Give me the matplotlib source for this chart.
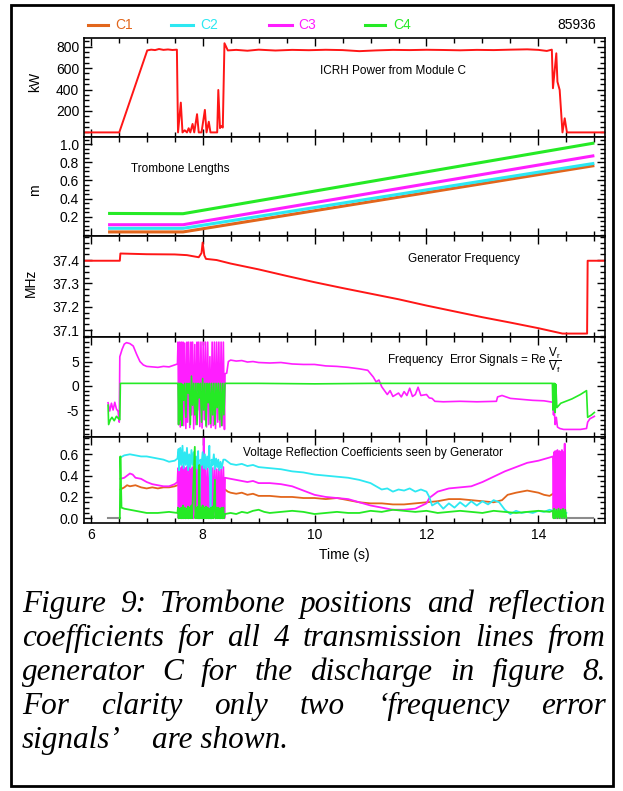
import numpy as np
import matplotlib.pyplot as plt
from matplotlib.ticker import MultipleLocator
from matplotlib.lines import Line2D
from matplotlib.patches import Rectangle

plt.rcParams['font.family'] = ['Liberation Sans', 'DejaVu Sans']
plt.rcParams['mathtext.fontset'] = 'custom'
plt.rcParams['mathtext.rm'] = 'Liberation Sans'
plt.rcParams['mathtext.it'] = 'Liberation Sans'
plt.rcParams['mathtext.default'] = 'regular'
plt.rcParams['axes.unicode_minus'] = False

# ---- data ----
shot = '85936'
names = ['C1', 'C2', 'C3', 'C4']
colors = ['#e2661c', '#2de8f2', '#ff1eff', '#25ea25']
red = '#ff1616'

# ICRH power from module C (kW)
t_pwr = [5.88, 6.51, 7.01, 7.08, 7.15, 7.22, 7.30, 7.38, 7.46, 7.54,
         7.56, 7.61, 7.64, 7.68, 7.72, 7.75, 7.78, 7.82, 7.85, 7.90,
         7.93, 7.98, 8.04, 8.07, 8.11, 8.14, 8.26, 8.28, 8.31, 8.33,
         8.36, 8.39, 8.45, 8.6, 8.8, 9.0, 9.3, 9.6, 9.9, 10.2,
         10.5, 10.8, 11.1, 11.4, 11.7, 12.0, 12.3, 12.6, 12.9, 13.2,
         13.5, 13.8, 14.0, 14.15, 14.24, 14.26, 14.32, 14.34, 14.38, 14.43,
         14.47, 14.51, 15.19]
kw_pwr = [0, 0, 765, 772, 768, 778, 770, 774, 769, 772,
          0, 278, 0, 20, 0, 39, 0, 79, 0, 170,
          0, 0, 210, 0, 100, 0, 0, 396, 40, 60,
          45, 832, 765, 770, 762, 772, 764, 770, 767, 771,
          768, 758, 765, 770, 768, 771, 769, 766, 770, 768,
          772, 775, 770, 760, 772, 412, 738, 473, 396, 0,
          132, 0, 0]

# trombone lengths (m)
t_tb = [6.31, 7.65, 15.0]
tb_c1 = [0.030, 0.030, 0.765]
tb_c2 = [0.070, 0.070, 0.790]
tb_c3 = [0.110, 0.110, 0.875]
tb_c4 = [0.235, 0.232, 1.015]

# generator frequency (MHz)
t_frq = [5.88, 6.52, 6.53, 7.0, 7.5, 7.72, 7.93, 7.98, 8.00, 8.03,
         8.06, 8.25, 8.5, 9.0, 9.5, 10.0, 10.5, 11.0, 11.5, 12.0,
         12.5, 13.0, 13.5, 14.0, 14.43, 14.87, 14.88, 15.19]
mhz_frq = [37.397, 37.397, 37.428, 37.425, 37.424, 37.421, 37.412, 37.43, 37.475, 37.42,
           37.405, 37.40, 37.385, 37.36, 37.332, 37.305, 37.28, 37.256, 37.232, 37.205,
           37.18, 37.155, 37.132, 37.108, 37.085, 37.085, 37.397, 37.397]

# frequency error signals, C3 and C4
t_err3 = [6.31, 6.34, 6.37, 6.40, 6.43, 6.46, 6.49, 6.51, 6.52, 6.56,
          6.60, 6.64, 6.70, 6.76, 6.82, 6.88, 6.94, 7.00, 7.10, 7.20,
          7.30, 7.40, 7.50, 7.55, 7.56, 7.57, 7.59, 7.60, 7.62, 7.63,
          7.65, 7.66, 7.68, 7.70, 7.72, 7.73, 7.75, 7.77, 7.79, 7.80,
          7.82, 7.84, 7.86, 7.88, 7.90, 7.91, 7.93, 7.95, 7.97, 7.99,
          8.01, 8.03, 8.05, 8.07, 8.09, 8.11, 8.13, 8.15, 8.17, 8.19,
          8.21, 8.23, 8.25, 8.27, 8.29, 8.31, 8.33, 8.35, 8.37, 8.39,
          8.40, 8.43, 8.46, 8.50, 8.60, 8.70, 8.80, 8.90, 9.00, 9.20,
          9.40, 9.60, 9.80, 10.0, 10.2, 10.4, 10.6, 10.8, 10.95, 11.0,
          11.05, 11.10, 11.15, 11.20, 11.25, 11.30, 11.35, 11.40, 11.50, 11.55,
          11.60, 11.65, 11.70, 11.75, 11.80, 11.85, 11.90, 12.00, 12.05, 12.10,
          12.15, 12.30, 12.60, 12.90, 13.25, 13.27, 13.35, 13.50, 13.70, 13.90,
          14.10, 14.26, 14.27, 14.28, 14.30, 14.32, 14.34, 14.38, 14.45, 14.60,
          14.75, 14.86, 14.88, 14.92, 15.0]
err3 = [-3.5, -5.2, -3.6, -5.0, -3.4, -4.8, -5.3, -7.5, 6.0, 7.5,
        8.6, 8.9, 8.7, 8.2, 6.5, 5.0, 4.3, 4.0, 3.9, 3.8,
        4.0, 3.9, 4.3, 4.5, 9.0, -8.0, 9.0, -8.5, 9.0, -7.8,
        9.0, -8.2, 8.8, -8.8, 9.0, -7.5, 9.0, -8.6, 9.0, -6.0,
        9.0, -8.9, 8.5, -8.0, 9.0, -5.0, 9.0, -8.4, 9.0, -8.7,
        9.0, -7.0, 9.0, -8.5, 9.0, -8.0, 6.0, -8.6, 9.0, -8.2,
        9.0, -8.8, 9.0, -7.5, 9.0, -8.5, 9.0, -8.2, 9.0, -9.0,
        2.5, 2.6, 5.0, 5.3, 5.1, 5.2, 4.9, 5.0, 4.8, 4.7,
        4.8, 4.5, 4.4, 4.4, 4.1, 4.0, 3.8, 3.5, 3.2, 2.5,
        1.8, 0.8, 1.2, -0.2, -1.0, -1.8, -1.0, -2.2, -1.5, -2.3,
        -1.2, -2.0, -0.5, -2.2, -1.8, -0.3, -2.0, -1.8, -2.5, -2.6,
        -3.2, -3.3, -3.2, -3.3, -3.2, -2.3, -2.0, -2.6, -2.8, -3.0,
        -3.1, -3.4, -6.0, -4.5, -8.0, -6.5, -8.5, -8.8, -9.0, -9.0,
        -9.0, -8.8, -7.5, -6.8, -6.3]

t_err4 = [6.31, 6.32, 6.35, 6.38, 6.42, 6.46, 6.50, 6.52, 6.53, 7.00,
          7.55, 7.56, 7.57, 7.58, 7.60, 7.61, 7.63, 7.64, 7.66, 7.68,
          7.70, 7.72, 7.74, 7.76, 7.78, 7.80, 7.82, 7.84, 7.86, 7.88,
          7.90, 7.92, 7.94, 7.96, 7.98, 8.00, 8.02, 8.04, 8.06, 8.08,
          8.10, 8.12, 8.14, 8.16, 8.18, 8.20, 8.22, 8.24, 8.26, 8.28,
          8.30, 8.32, 8.34, 8.36, 8.38, 8.40, 9.0, 10.0, 11.0, 12.0,
          13.0, 14.0, 14.25, 14.26, 14.27, 14.28, 14.29, 14.30, 14.31, 14.33,
          14.40, 14.60, 14.75, 14.86, 14.88, 14.95, 15.0]
err4 = [-4.0, -8.0, -7.0, -6.5, -7.2, -6.3, -6.8, -7.0, 0.5, 0.5,
        0.5, 0.5, -8.0, 0.5, -7.0, 0.5, -8.2, 0.3, -3.0, 0.5,
        -6.5, 0.5, -1.5, 0.5, -8.0, 2.0, -4.0, 0.5, -6.0, 0.5,
        -8.0, 0.5, -2.5, 0.5, -7.5, 1.5, -5.0, 0.5, -8.3, 0.5,
        -3.5, 0.5, -7.8, 0.5, -6.0, 0.5, -8.0, 0.5, -4.5, 0.5,
        -7.0, 0.5, -8.2, 0.5, -6.0, 0.5, 0.5, 0.4, 0.5, 0.5,
        0.5, 0.5, 0.5, -5.0, 0.5, -4.0, 0.5, -5.5, 0.3, -4.5,
        -3.6, -2.7, -1.8, -1.0, -6.5, -6.0, -5.5]

# voltage reflection coefficients
t_rc1 = [6.53, 6.60, 6.65, 6.70, 6.80, 6.90, 7.00, 7.10, 7.20, 7.30,
         7.40, 7.50, 7.55, 7.70, 7.90, 8.10, 8.30, 8.40, 8.45, 8.50,
         8.60, 8.70, 8.80, 8.90, 9.00, 9.20, 9.40, 9.60, 9.80, 10.0,
         10.2, 10.4, 10.6, 10.8, 11.0, 11.2, 11.4, 11.6, 11.8, 12.0,
         12.2, 12.4, 12.6, 12.8, 13.0, 13.2, 13.35, 13.45, 13.60, 13.80,
         13.90, 14.00, 14.10, 14.20, 14.26]
rc1 = [0.27, 0.29, 0.31, 0.30, 0.31, 0.29, 0.28, 0.29, 0.28, 0.29,
       0.29, 0.30, 0.31, 0.30, 0.28, 0.27, 0.28, 0.27, 0.25, 0.24,
       0.23, 0.24, 0.22, 0.23, 0.21, 0.21, 0.20, 0.20, 0.19, 0.19,
       0.18, 0.19, 0.17, 0.15, 0.14, 0.14, 0.13, 0.13, 0.14, 0.15,
       0.16, 0.18, 0.18, 0.17, 0.16, 0.15, 0.17, 0.22, 0.24, 0.26,
       0.25, 0.24, 0.22, 0.21, 0.23]

t_rc2 = [6.53, 6.60, 6.70, 6.80, 6.90, 7.00, 7.10, 7.20, 7.30, 7.40,
         7.50, 7.55, 7.57, 7.58, 7.60, 7.62, 7.64, 7.66, 7.68, 7.70,
         7.72, 7.74, 7.76, 7.78, 7.80, 7.82, 7.84, 7.86, 7.88, 7.90,
         7.92, 7.94, 7.96, 7.98, 8.00, 8.02, 8.04, 8.06, 8.08, 8.10,
         8.12, 8.14, 8.16, 8.18, 8.20, 8.22, 8.24, 8.26, 8.28, 8.30,
         8.32, 8.34, 8.37, 8.40, 8.50, 8.60, 8.70, 8.80, 8.90, 9.00,
         9.20, 9.40, 9.60, 9.80, 10.0, 10.2, 10.4, 10.6, 10.8, 11.0,
         11.1, 11.2, 11.3, 11.4, 11.5, 11.6, 11.7, 11.8, 11.9, 12.0,
         12.05, 12.1, 12.2, 12.3, 12.4, 12.5, 12.6, 12.7, 12.8, 12.9,
         13.0, 13.1, 13.2, 13.3, 13.4, 13.5, 13.6, 13.7, 13.8, 13.9,
         14.0, 14.1, 14.2, 14.26, 14.40, 14.50]
rc2 = [0.57, 0.59, 0.60, 0.59, 0.58, 0.58, 0.57, 0.56, 0.55, 0.53,
       0.54, 0.56, 0.65, 0.45, 0.66, 0.50, 0.68, 0.47, 0.62, 0.50,
       0.66, 0.45, 0.60, 0.48, 0.64, 0.50, 0.62, 0.45, 0.58, 0.47,
       0.63, 0.00, 0.55, 0.50, 0.62, 0.47, 0.60, 0.46, 0.58, 0.48,
       0.68, 0.00, 0.55, 0.50, 0.60, 0.46, 0.56, 0.48, 0.55, 0.45,
       0.53, 0.47, 0.55, 0.55, 0.51, 0.50, 0.51, 0.49, 0.50, 0.48,
       0.47, 0.46, 0.44, 0.43, 0.41, 0.40, 0.39, 0.38, 0.36, 0.33,
       0.30, 0.27, 0.28, 0.25, 0.27, 0.26, 0.28, 0.25, 0.27, 0.25,
       0.20, 0.12, 0.15, 0.09, 0.14, 0.10, 0.15, 0.11, 0.16, 0.12,
       0.16, 0.13, 0.17, 0.15, 0.08, 0.04, 0.07, 0.05, 0.06, 0.05,
       0.07, 0.06, 0.08, 0.07, 0.06, 0.05]

t_rc3 = [6.53, 6.60, 6.65, 6.70, 6.75, 6.80, 6.90, 7.00, 7.10, 7.20,
         7.30, 7.40, 7.50, 7.55, 7.56, 7.57, 7.58, 7.60, 7.61, 7.63,
         7.64, 7.66, 7.67, 7.69, 7.70, 7.72, 7.73, 7.75, 7.76, 7.78,
         7.79, 7.81, 7.82, 7.84, 7.86, 7.88, 7.90, 7.92, 7.94, 7.96,
         7.98, 8.00, 8.02, 8.03, 8.05, 8.07, 8.09, 8.11, 8.13, 8.15,
         8.17, 8.19, 8.21, 8.23, 8.25, 8.27, 8.29, 8.31, 8.33, 8.35,
         8.37, 8.39, 8.40, 8.50, 8.60, 8.70, 8.80, 8.90, 9.00, 9.20,
         9.40, 9.60, 9.80, 10.0, 10.2, 10.4, 10.6, 10.8, 11.0, 11.2,
         11.4, 11.6, 11.8, 12.0, 12.05, 12.2, 12.4, 12.8, 13.0, 13.2,
         13.4, 13.6, 13.8, 14.0, 14.2, 14.26, 14.27, 14.28, 14.29, 14.30,
         14.31, 14.32, 14.33, 14.34, 14.35, 14.36, 14.37, 14.38, 14.39, 14.40,
         14.41, 14.42, 14.43, 14.44, 14.45, 14.47, 14.48, 14.50]
rc3 = [0.37, 0.38, 0.40, 0.42, 0.41, 0.38, 0.37, 0.34, 0.32, 0.31,
       0.30, 0.30, 0.32, 0.34, 0.47, 0.00, 0.48, 0.02, 0.47, 0.00,
       0.49, 0.01, 0.48, 0.00, 0.47, 0.02, 0.49, 0.00, 0.48, 0.01,
       0.46, 0.00, 0.48, 0.00, 0.47, 0.02, 0.48, 0.00, 0.46, 0.00,
       0.50, 0.00, 0.77, 0.00, 0.48, 0.01, 0.47, 0.00, 0.46, 0.00,
       0.47, 0.02, 0.48, 0.00, 0.46, 0.01, 0.47, 0.00, 0.46, 0.00,
       0.48, 0.00, 0.38, 0.37, 0.36, 0.35, 0.34, 0.35, 0.33, 0.33,
       0.32, 0.30, 0.26, 0.22, 0.20, 0.19, 0.18, 0.15, 0.12, 0.10,
       0.08, 0.08, 0.09, 0.14, 0.19, 0.25, 0.28, 0.30, 0.34, 0.39,
       0.44, 0.48, 0.52, 0.54, 0.57, 0.58, 0.02, 0.62, 0.00, 0.63,
       0.01, 0.62, 0.00, 0.64, 0.00, 0.62, 0.02, 0.63, 0.00, 0.62,
       0.01, 0.64, 0.00, 0.62, 0.00, 0.70, 0.00, 0.00]

t_rc4 = [6.52, 6.53, 6.55, 6.60, 6.70, 6.80, 6.90, 7.00, 7.20, 7.40,
         7.55, 7.56, 7.57, 7.59, 7.60, 7.62, 7.63, 7.65, 7.66, 7.68,
         7.69, 7.71, 7.72, 7.74, 7.75, 7.77, 7.78, 7.80, 7.81, 7.86,
         7.87, 7.89, 7.90, 7.92, 7.93, 7.94, 7.95, 7.97, 7.98, 8.00,
         8.01, 8.03, 8.04, 8.06, 8.07, 8.09, 8.10, 8.12, 8.13, 8.15,
         8.16, 8.18, 8.19, 8.22, 8.23, 8.25, 8.26, 8.28, 8.29, 8.31,
         8.32, 8.34, 8.35, 8.37, 8.38, 8.40, 8.50, 8.60, 8.70, 8.80,
         8.90, 9.00, 9.10, 9.20, 9.40, 9.60, 9.80, 10.0, 10.2, 10.4,
         10.6, 10.8, 11.0, 11.2, 11.4, 11.6, 11.8, 12.0, 12.2, 12.4,
         12.6, 12.8, 13.0, 13.2, 13.4, 13.6, 13.8, 14.0, 14.2, 14.26,
         14.27, 14.28, 14.30, 14.32, 14.34, 14.36, 14.38, 14.40, 14.42, 14.44,
         14.46, 14.48, 14.50]
rc4 = [0.00, 0.58, 0.10, 0.09, 0.08, 0.07, 0.06, 0.05, 0.05, 0.06,
       0.05, 0.10, 0.00, 0.09, 0.00, 0.10, 0.00, 0.12, 0.00, 0.10,
       0.00, 0.09, 0.00, 0.11, 0.00, 0.10, 0.00, 0.12, 0.00, 0.67,
       0.00, 0.10, 0.00, 0.11, 0.00, 0.50, 0.00, 0.10, 0.00, 0.12,
       0.00, 0.10, 0.00, 0.11, 0.00, 0.10, 0.00, 0.09, 0.00, 0.10,
       0.00, 0.11, 0.00, 0.36, 0.00, 0.10, 0.00, 0.10, 0.00, 0.09,
       0.00, 0.10, 0.00, 0.10, 0.00, 0.04, 0.05, 0.04, 0.06, 0.05,
       0.07, 0.08, 0.06, 0.05, 0.06, 0.07, 0.06, 0.04, 0.05, 0.06,
       0.05, 0.05, 0.07, 0.06, 0.08, 0.07, 0.06, 0.07, 0.05, 0.06,
       0.07, 0.06, 0.05, 0.07, 0.06, 0.05, 0.06, 0.07, 0.06, 0.07,
       0.00, 0.09, 0.00, 0.08, 0.00, 0.09, 0.00, 0.08, 0.00, 0.09,
       0.00, 0.08, 0.00]

# generator off: all coefficients sit at zero
t_idle = [6.31, 6.52, np.nan, 14.51, 14.97]
rc_idle = [0.0, 0.0, np.nan, 0.0, 0.0]

caption = ['Figure 9: Trombone positions and reflection',
           'coefficients for all 4 transmission lines from',
           'generator C for the discharge in figure 8.',
           'For clarity only two \u2018frequency error']
caption_last = ['signals\u2019', 'are shown.']

# ---- figure ----
W, H = 623, 791
fig = plt.figure(figsize=(W / 100, H / 100), dpi=100)

left, right = 84, 605
edges = [38.3, 136.7, 236.0, 337.3, 436.7, 523.3]
axes = []
for i in range(5):
    top, bot = edges[i], edges[i + 1]
    ax = fig.add_axes([left / W, 1 - bot / H, (right - left) / W, (bot - top) / H])
    ax.set_xlim(5.88, 15.19)
    ax.xaxis.set_major_locator(MultipleLocator(2))
    ax.xaxis.set_minor_locator(MultipleLocator(0.5))
    ax.tick_params(which='both', direction='in', top=True, right=True,
                   labelsize=10, width=1.0)
    ax.tick_params(which='major', length=6)
    ax.tick_params(which='minor', length=3.5)
    for s in ax.spines.values():
        s.set_linewidth(1.2)
    if i < 4:
        ax.tick_params(labelbottom=False)
    axes.append(ax)
ax1, ax2, ax3, ax4, ax5 = axes

# panel 1: power
ax1.plot(t_pwr, kw_pwr, color=red, lw=1.4)
ax1.set_ylim(-40, 878)
ax1.set_yticks([200, 400, 600, 800])
ax1.yaxis.set_minor_locator(MultipleLocator(50))
ax1.set_ylabel('kW', fontsize=10)
ax1.yaxis.set_label_coords(-0.08, 0.56)
ax1.text(0.593, 0.67, 'ICRH Power from Module C', transform=ax1.transAxes,
         ha='center', va='center', fontsize=8.5)

# panel 2: trombones
for tv, c in zip([tb_c1, tb_c2, tb_c3, tb_c4], colors):
    ax2.plot(t_tb, tv, color=c, lw=2.2, solid_capstyle='butt')
ax2.set_ylim(-0.015, 1.085)
ax2.set_yticks([0.2, 0.4, 0.6, 0.8, 1.0])
ax2.set_yticklabels(['0.2', '0.4', '0.6', '0.8', '1.0'])
ax2.yaxis.set_minor_locator(MultipleLocator(0.05))
ax2.set_ylabel('m', fontsize=10)
ax2.yaxis.set_label_coords(-0.08, 0.46)
ax2.text(0.184, 0.672, 'Trombone Lengths', transform=ax2.transAxes,
         ha='center', va='center', fontsize=8.5)

# panel 3: frequency
ax3.plot(t_frq, mhz_frq, color=red, lw=1.4)
ax3.set_ylim(37.069, 37.503)
ax3.set_yticks([37.1, 37.2, 37.3, 37.4])
ax3.yaxis.set_minor_locator(MultipleLocator(0.025))
ax3.set_ylabel('MHz', fontsize=10)
ax3.yaxis.set_label_coords(-0.088, 0.54)
ax3.text(0.729, 0.77, 'Generator Frequency', transform=ax3.transAxes,
         ha='center', va='center', fontsize=8.5)

# panel 4: error signals
ax4.plot(t_err3, err3, color=colors[2], lw=1.2)
ax4.plot(t_err4, err4, color=colors[3], lw=1.2)
ax4.set_ylim(-10.5, 10.0)
ax4.set_yticks([-5, 0, 5])
ax4.yaxis.set_minor_locator(MultipleLocator(1))
ax4.text(0.582, 0.772, r'Frequency  Error Signals = Re $\dfrac{V_r}{V_f}$',
         transform=ax4.transAxes, ha='left', va='center', fontsize=8.5)

# panel 5: reflection coefficients
ax5.plot(t_idle, rc_idle, color='#8c8c8c', lw=1.5)
ax5.plot(t_rc1, rc1, color=colors[0], lw=1.3)
ax5.plot(t_rc3, rc3, color=colors[2], lw=1.3)
ax5.plot(t_rc2, rc2, color=colors[1], lw=1.3)
ax5.plot(t_rc4, rc4, color=colors[3], lw=1.3)
ax5.set_ylim(-0.047, 0.765)
ax5.set_yticks([0.0, 0.2, 0.4, 0.6])
ax5.set_yticklabels(['0.0', '0.2', '0.4', '0.6'])
ax5.yaxis.set_minor_locator(MultipleLocator(0.05))
ax5.text(0.554, 0.815, 'Voltage Reflection Coefficients seen by Generator',
         transform=ax5.transAxes, ha='center', va='center', fontsize=8.5)
ax5.set_xlabel('Time (s)', fontsize=10, labelpad=4)

# legend row
leg_line_x = [(88, 108), (171, 193), (269, 292), (365, 385)]
leg_text_x = [115, 200, 298, 393]
ly = 1 - 25 / H
for (x0, x1), tx, c, n in zip(leg_line_x, leg_text_x, colors, names):
    fig.add_artist(Line2D([x0 / W, x1 / W], [ly, ly], color=c, lw=2.2))
    fig.text(tx / W, ly, n, color=c, fontsize=10, ha='left', va='center')
fig.text(596 / W, ly, shot, fontsize=10, ha='right', va='center')

# outer frame
fig.add_artist(Rectangle((10.5 / W, 1 - 786 / H), (613 - 10.5) / W, (786 - 5) / H,
                         transform=fig.transFigure, fill=False, lw=2.0,
                         edgecolor='black'))

# caption, justified
cap_kw = dict(fontfamily='Liberation Serif', fontstyle='italic', fontsize=22.5,
              va='baseline', ha='left')
baselines = [612, 646, 680, 714, 748]
x_left, x_right = 22, 606
renderer = fig.canvas.get_renderer()
for line, yb in zip(caption, baselines):
    words = line.split()
    texts = [fig.text(0, 1 - yb / H, w, **cap_kw) for w in words]
    widths = [t.get_window_extent(renderer).width for t in texts]
    gap = (x_right - x_left - sum(widths)) / (len(words) - 1)
    x = x_left
    for t, w in zip(texts, widths):
        t.set_x(x / W)
        x += w + gap
fig.text(x_left / W, 1 - baselines[4] / H, caption_last[0], **cap_kw)
fig.text(152 / W, 1 - baselines[4] / H, caption_last[1], **cap_kw)

fig.savefig('out.png', dpi=100)
